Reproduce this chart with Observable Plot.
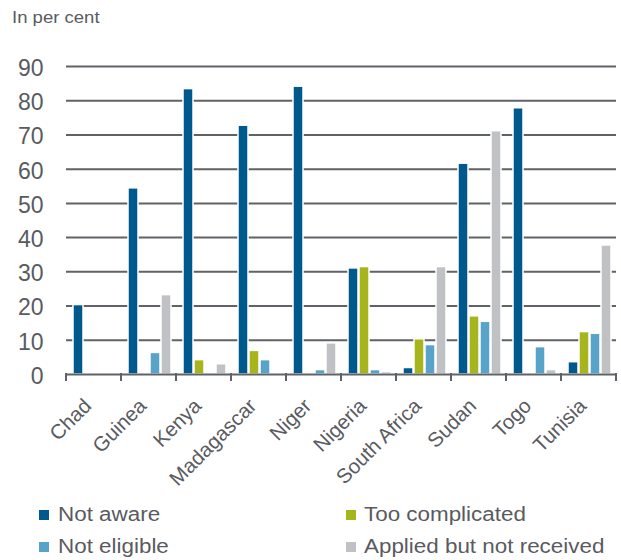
<!DOCTYPE html>
<html>
<head>
<meta charset="utf-8">
<script src="https://cdn.jsdelivr.net/npm/d3@7"></script>
<script src="https://cdn.jsdelivr.net/npm/@observablehq/plot@0.6"></script>
<style>
  body { margin: 0; background: #fff; font-family: "Liberation Sans", Arial, sans-serif; color: #595b5f; }
  #wrap { position: relative; width: 621px; height: 560px; overflow: hidden; }
  #title { position: absolute; left: 12px; top: 7.4px; font-size: 17px; line-height: 22px; white-space: nowrap; transform: scaleX(1.09); transform-origin: left center; }
  #chart { position: absolute; left: 0; top: 30px; }
  #legend { position: absolute; left: 39.3px; top: 497.5px; display: grid; grid-template-columns: 306.5px auto; font-size: 20px; line-height: 32.6px; }
  .item { white-space: nowrap; }
  .sw { display: inline-block; width: 10px; height: 10px; margin-right: 8.5px; margin-bottom: 1px; vertical-align: baseline; }
  .lbl { display: inline-block; transform: scaleX(1.12); transform-origin: left center; }
</style>
</head>
<body>
<div id="wrap">
  <div id="title">In per cent</div>
  <div id="chart"></div>
  <div id="legend"></div>
</div>
<script>
const countries = ["Chad","Guinea","Kenya","Madagascar","Niger","Nigeria","South Africa","Sudan","Togo","Tunisia"];
const seriesNames = ["Not aware","Too complicated","Not eligible","Applied but not received"];
const notAware = [20.3, 54.4, 83.4, 72.7, 84.1, 31.0, 1.9, 61.6, 77.8, 3.6];
const tooComplicated = [null, null, 4.2, 6.9, null, 31.4, 10.3, 17.0, null, 12.4];
const notEligible = [null, 6.3, null, 4.2, 1.3, 1.3, 8.6, 15.4, 8.0, 11.9];
const appliedNotReceived = [null, 23.2, 3.0, null, 9.1, 0.7, 31.4, 71.1, 1.3, 37.7];
const yTicks = [0, 10, 20, 30, 40, 50, 60, 70, 80, 90];
const seriesColors = ["#00598c", "#a6b51b", "#58a3ca", "#bfc1c4"];

const seriesValues = [notAware, tooComplicated, notEligible, appliedNotReceived];
const data = [];
countries.forEach((c, i) => {
  seriesNames.forEach((s, j) => {
    const v = seriesValues[j][i];
    if (v != null) data.push({country: c, series: s, value: v});
  });
});

const textColor = "#595b5f";
const gridColor = "#5f6267";

const plot = Plot.plot({
  width: 621,
  height: 476,
  marginTop: 36,
  marginBottom: 132,
  marginLeft: 62,
  marginRight: 2,
  style: {fontFamily: "Liberation Sans, Arial, sans-serif", color: textColor, background: "white"},
  fx: {domain: countries, padding: 0, label: null},
  x: {domain: seriesNames, paddingInner: 0.06, paddingOuter: 0.41, align: 0.6, axis: null},
  y: {domain: [0, 90], label: null},
  color: {domain: seriesNames, range: seriesColors},
  marks: [
    Plot.ruleY(yTicks.filter(d => d > 0), {stroke: gridColor, strokeWidth: 2}),
    Plot.barY(data, {fx: "country", x: "series", y: "value", fill: "series", stroke: "white", strokeWidth: 1.5}),
    Plot.ruleY([0], {stroke: gridColor, strokeWidth: 2}),
    Plot.axisY({ticks: yTicks, tickSize: 0, tickPadding: 23, dy: 2, fontSize: 23, fill: textColor, label: null}),
    Plot.axisFx({anchor: "bottom", tickSize: 0, tickPadding: 28, dx: -6, tickRotate: -45, fontSize: 20.5, fill: textColor, label: null})
  ]
});

document.getElementById("chart").appendChild(plot);

// boundary tick marks below the baseline, from the fx band scale
const fx = plot.scale("fx");
const y = plot.scale("y");
const y0 = y.apply(0);
const bounds = countries.map(c => fx.apply(c));
bounds.push(fx.apply(countries[countries.length - 1]) + fx.bandwidth);
d3.select(plot).append("g")
  .selectAll("line").data(bounds).join("line")
  .attr("x1", d => d).attr("x2", d => d)
  .attr("y1", y0 - 1).attr("y2", y0 + 7)
  .attr("stroke", gridColor).attr("stroke-width", 2);

const legend = d3.select("#legend");
[0, 1, 2, 3].forEach(j => {
  const item = legend.append("div").attr("class", "item");
  item.append("span").attr("class", "sw").style("background", seriesColors[j]);
  item.append("span").attr("class", "lbl").text(seriesNames[j]);
});
</script>
</body>
</html>
